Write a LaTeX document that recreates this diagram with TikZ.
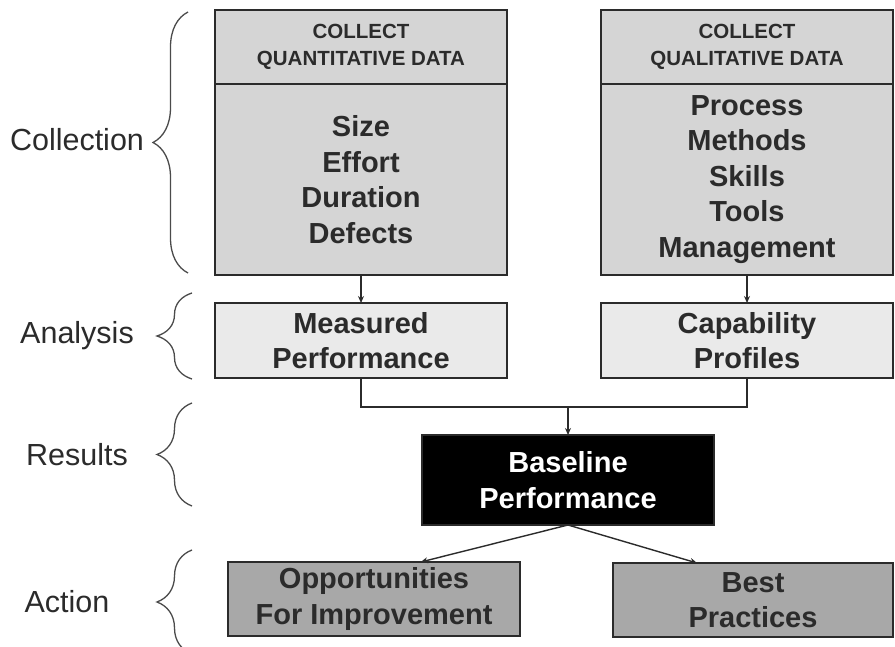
\documentclass[tikz,border=0pt]{standalone}
\usepackage{fontspec}
\setmainfont{Liberation Sans}
\usetikzlibrary{positioning,arrows.meta,calc,decorations.pathreplacing}

\definecolor{inkgray}{HTML}{2B2B2B}
\definecolor{datafill}{HTML}{D5D5D5}
\definecolor{anafill}{HTML}{EAEAEA}
\definecolor{actfill}{HTML}{A8A8A8}

\begin{document}
\begin{tikzpicture}[x=1pt, y=1pt, >={Stealth[length=7pt,width=6pt]},
  box/.style={draw=inkgray, line width=2pt, outer sep=0pt, align=center, text=inkgray,
    minimum width=292pt, font=\fontsize{29}{35.5}\selectfont\bfseries},
  hdr/.style={box, fill=datafill, minimum height=74pt, font=\fontsize{20.5}{27}\selectfont\bfseries},
  body/.style={box, fill=datafill, minimum height=191pt},
  ana/.style={box, fill=anafill, minimum height=75pt},
  act/.style={box, fill=actfill, minimum height=74pt},
  grp/.style={decorate, decoration={brace, amplitude=35pt}, draw=inkgray!85, line width=1.3pt},
  stage/.style={text=inkgray, font=\fontsize{30.5}{36}\selectfont},
  link/.style={draw=inkgray, line width=1.4pt}]
  \useasboundingbox (0,0) rectangle (895,-647);
  \clip (0,0) rectangle (895,-647);

  % collection boxes
  \node[hdr](qhead) at (361,-47){COLLECT\\QUANTITATIVE DATA};
  \node[body,below=0pt of qhead](qbody){Size\\Effort\\Duration\\Defects};
  \node[hdr,right=94pt of qhead](lhead){COLLECT\\QUALITATIVE DATA};
  \node[body,below=0pt of lhead](lbody){Process\\Methods\\Skills\\Tools\\Management};

  % analysis, results, action
  \node[ana,below=28pt of qbody](meas){Measured\\Performance};
  \node[ana,below=28pt of lbody](capa){Capability\\Profiles};
  \node[box,fill=black,text=white,minimum height=90pt](base) at (568,-480){Baseline\\Performance};
  \node[act](opp) at (374,-599){Opportunities\\For Improvement};
  \node[act,minimum width=280pt](best) at (753,-600){Best\\Practices};

  \draw[link,->](qbody)--(meas);
  \draw[link,->](lbody)--(capa);
  \coordinate(mid) at ($(meas.south)+(0,-29)$);
  \draw[link](meas.south)--(mid)-|(capa.south);
  \draw[link,->](mid -| base.north)--(base.north);
  \draw[link,->](base.south)--($(opp.north west)!0.66!(opp.north east)$);
  \draw[link,->](base.south)--($(best.north west)!0.3!(best.north east)$);

  % stage braces and labels
  \draw[grp](188,-273)--(188,-12);
  \draw[grp](192,-379)--(192,-293);
  \draw[grp](192,-506)--(192,-403);
  \draw[grp](192,-654)--(192,-550);
  \node[stage](lcol) at (77,-140){Collection};
  \node[stage](lana) at (77,-336){Analysis};
  \node[stage](lres) at (77,-455){Results};
  \node[stage](lact) at (67,-602){Action};
\end{tikzpicture}
\end{document}
